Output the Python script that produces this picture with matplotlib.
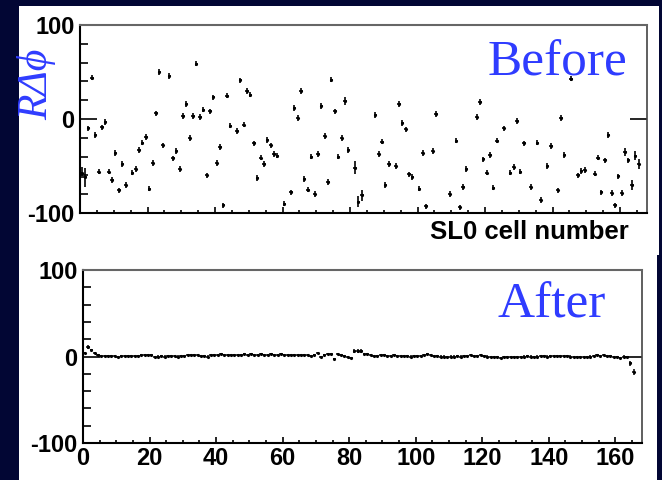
import numpy as np
import matplotlib
matplotlib.use("Agg")
import matplotlib.pyplot as plt
from matplotlib.patches import Rectangle
from matplotlib.ticker import MultipleLocator

# residuals per SL0 cell before alignment (nan = outside the -100..100 range)
nan = np.nan
before = [
    -57, -62, -10, 44, -17, -56, -9, -3, -56, -65,
    -36, -76, -48, -70, nan, -57, -53, -33, -25, -19,
    -74, -47, 6, 50, -28, nan, 46, -42, -34, -53,
    3, 16, -20, 3, 59, 2, 10, -60, 8, 23,
    -47, -30, -92, 25, -7, nan, -13, 41, -6, 30,
    26, -26, -63, -41, -48, -22, -28, -37, -39, nan,
    -90, nan, -78, 12, 1, 30, -64, -75, -40, -80,
    -37, 14, -18, -67, 42, 8, -40, -20, 19, -33,
    nan, -52, -88, -81, nan, nan, nan, 4, -37, -24,
    -70, -48, nan, -50, 16, -4, -11, -59, -62, nan,
    -74, -36, -93, nan, -34, 5, nan, nan, nan, -80,
    nan, -23, -94, -72, -53, nan, nan, 2, 18, -43,
    -57, -38, -73, -23, nan, -10, nan, -57, -51, -2,
    -56, -26, nan, -72, nan, -25, -86, nan, -50, -29,
    nan, -76, 1, -38, nan, 43, nan, -60, -55, -54,
    nan, nan, -58, -41, -78, -44, -17, -79, -92, -61,
    -79, -35, -44, -70, -39, -48,
]
before_err = [3] * len(before)
before_err[0] = 6
before_err[1] = 10
before_err[78] = 4
before_err[81] = 7
before_err[82] = 6
before_err[83] = 6
before_err[161] = 4
before_err[163] = 5
before_err[164] = 5
before_err[165] = 5

# residuals per SL0 cell after alignment
after = [
    4, 11, 7, 4, 2, 1, 0.5, 0.5, 0.5, 0.5,
    -1, 0.5, 0.5, 0.5, 1, 0.5, 1, 2, 2, 1.5,
    2, -0.5, 0, 0.5, 0, 0.5, 1, 0.5, 0, 0.5,
    1, 1.5, 2, 1.5, 1.5, 1, 0.5, 0, 1.5, 2,
    2, 2.5, 2, 1.5, 2, 2, 1.5, 2, 2.5, 2,
    2.5, 2, 2, 2.5, 2, 2, 2.5, 2, 2, 2.5,
    2, 2, 1.5, 2, 1.5, 2, 1.5, 1.5, 1, 1.5,
    4, -0.5, 2, 2.5, 3, -3, 3, 2, 1, -1,
    -2, 6, 6, 6.5, 3, 3, 1.5, 1, 1, 1.5,
    1.5, 1, 1, 1.5, 1, 1, 0.5, 0.5, 0, 0.5,
    0.5, 0.5, 2, 2.5, 2, 1, 0.5, 0, 0, -0.5,
    0, 0, 0.5, 0, 1, 1, 1.5, 1, 1, 1.5,
    1, 0, -1, -1, -1, -1.5, -1, -1, -0.5, -1,
    -1, -0.5, 0, 0.5, 0, -0.5, 0, 0.5, 0.5, 0,
    0.5, 1, 0.5, 0.5, 1, 0.5, 0, -0.5, -1, -0.5,
    -0.5, -1, 0, 1, 1.5, 1, 1.5, 1, 0.5, -0.5,
    -1, -1.5, 0, -1, -8, -18,
]
after_err = [1.2] * len(after)
after_err[1] = 2
after_err[81] = 2.5
after_err[82] = 2.5
after_err[83] = 2.5
after_err[164] = 2.5
after_err[165] = 3.5

cells = np.arange(len(before)) + 0.5

W, H = 662, 480
fig = plt.figure(figsize=(W / 100, H / 100), dpi=100)
fig.patch.set_facecolor("#020634")

# white canvases behind the two pads
fig.patches.append(Rectangle((19 / W, 1 - 255 / H), 640 / W, 249 / H,
                             transform=fig.transFigure, facecolor="white", edgecolor="none", zorder=-10))
fig.patches.append(Rectangle((19 / W, 0), 638 / W, 225 / H,
                             transform=fig.transFigure, facecolor="white", edgecolor="none", zorder=-10))

ax1 = fig.add_axes([80 / W, 1 - 213 / H, 567 / W, 188 / H])
ax2 = fig.add_axes([83 / W, 1 - 443 / H, 559 / W, 173 / H])

tick_font = dict(family="Liberation Sans", weight="bold", size=17)

for ax in (ax1, ax2):
    ax.set_facecolor("white")
    ax.set_xlim(0, 168)
    ax.set_ylim(-100, 100)
    ax.set_yticks([-100, 0, 100])
    ax.yaxis.set_minor_locator(MultipleLocator(20))
    ax.xaxis.set_major_locator(MultipleLocator(20))
    ax.xaxis.set_minor_locator(MultipleLocator(5))
    ax.tick_params(axis="y", which="major", direction="in", length=12, width=1.2, pad=4, right=True)
    ax.tick_params(axis="y", which="minor", direction="in", length=6, width=1.2)
    ax.tick_params(axis="x", which="major", direction="in", length=4.5, width=1.2, pad=3)
    ax.tick_params(axis="x", which="minor", direction="in", length=2.2, width=1.2)
    ax.spines["left"].set_linewidth(1.5)
    ax.spines["bottom"].set_linewidth(1.5)
    ax.spines["top"].set_color("#666666")
    ax.spines["top"].set_linewidth(1.5)
    ax.spines["right"].set_color("#444444")
    ax.spines["right"].set_linewidth(1.2)

ax1.set_xticklabels([])
ax1.set_yticklabels(["-100", "0", "100"], **tick_font)
ax2.set_yticklabels(["-100", "0", "100"], **tick_font)
ax2.set_xticks(np.arange(0, 161, 20))
ax2.set_xticklabels([str(v) for v in range(0, 161, 20)], **tick_font)

ax1.errorbar(cells, before, xerr=0.5, yerr=before_err, fmt=".", color="black",
             markersize=2.5, ecolor="black", elinewidth=1.2, capsize=0)
ax2.errorbar(cells, after, xerr=0.5, yerr=after_err, fmt=".", color="black",
             markersize=2.5, ecolor="black", elinewidth=1.1, capsize=0)

ax1.set_xlabel("SL0 cell number", family="Liberation Sans", weight="bold", size=18.5,
               ha="right", va="top")
ax1.xaxis.set_label_coords(549 / 567, -0.035)

ax1.text(0.718, 0.734, "Before", transform=ax1.transAxes, ha="left", va="baseline",
         family="Liberation Serif", fontsize=37, color="#2f3cff")
ax2.text(0.741, 0.723, "After", transform=ax2.transAxes, ha="left", va="baseline",
         family="Liberation Serif", fontsize=37, color="#2f3cff")

fig.text(37 / W, 1 - 84 / H, "RΔϕ", rotation=90, ha="center", va="center",
         family=["Liberation Serif", "DejaVu Serif"], style="italic", fontsize=30, color="#2f3cff")

fig.savefig("out.png", dpi=100, facecolor=fig.get_facecolor())
